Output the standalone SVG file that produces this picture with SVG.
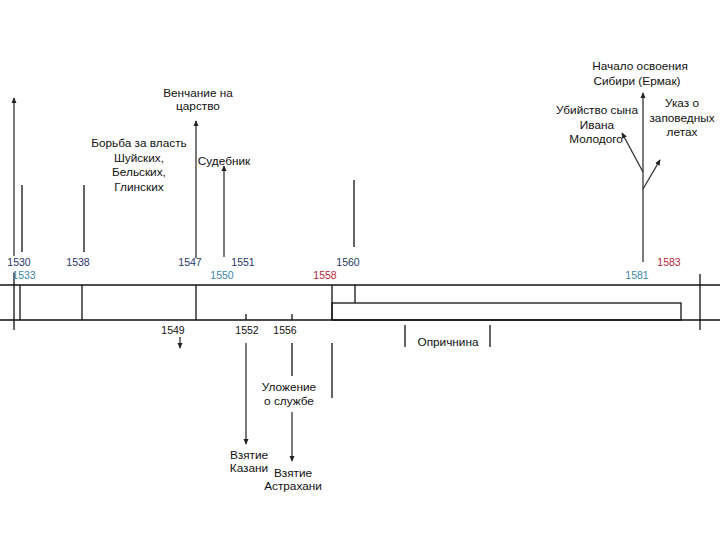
<svg xmlns="http://www.w3.org/2000/svg" width="720" height="540" viewBox="0 0 720 540">
<style>
text{font-family:"Liberation Sans",Arial,sans-serif;font-size:11.8px;fill:#111;text-anchor:middle}
.n{fill:#1f3864;font-size:10.5px}
.b{fill:#3a87a8;font-size:10.5px}
.r{fill:#b0283a;font-size:10.5px}
.k{font-size:10.5px}
.ln{stroke:#111;stroke-width:1.3;fill:none}
.ar{stroke:#333;stroke-width:1.3;fill:none;marker-end:url(#ah)}
</style>
<defs>
<marker id="ah" viewBox="0 0 8 8" refX="7" refY="4" markerWidth="6" markerHeight="6" markerUnits="userSpaceOnUse" orient="auto">
<path d="M0,0.5 L8,4 L0,7.5 Z" fill="#222"/>
</marker>
</defs>
<g id="band">
<line class="ln" x1="0" y1="285" x2="720" y2="285"/>
<line class="ln" x1="0" y1="320" x2="720" y2="320"/>
<line class="ln" x1="14" y1="273" x2="14" y2="330"/>
<line class="ln" x1="20" y1="285" x2="20" y2="320"/>
<line class="ln" x1="82" y1="285" x2="82" y2="320"/>
<line class="ln" x1="196" y1="285" x2="196" y2="320"/>
<line class="ln" x1="332" y1="285" x2="332" y2="320"/>
<line class="ln" x1="355" y1="285" x2="355" y2="303"/>
<rect class="ln" x="332" y="303" width="349" height="17"/>
<line class="ln" x1="700" y1="274" x2="700" y2="330"/>
<line class="ln" x1="246" y1="314" x2="246" y2="320"/>
<line class="ln" x1="292" y1="314" x2="292" y2="320"/>
</g>
<g id="years">
<text class="n" x="19" y="266">1530</text>
<text class="n" x="78" y="266">1538</text>
<text class="n" x="190" y="266">1547</text>
<text class="n" x="243" y="266">1551</text>
<text class="n" x="348" y="266">1560</text>
<text class="r" x="669" y="266">1583</text>
<text class="b" x="24" y="279">1533</text>
<text class="b" x="222" y="279">1550</text>
<text class="r" x="325" y="279">1558</text>
<text class="b" x="637" y="279">1581</text>
<text class="k" x="173" y="334">1549</text>
<text class="k" x="247" y="334">1552</text>
<text class="k" x="285" y="334">1556</text>
</g>
<g id="connectors">
<line class="ar" x1="14" y1="256" x2="14" y2="98"/>
<line class="ln" x1="22" y1="185" x2="22" y2="252"/>
<line class="ln" x1="84" y1="185" x2="84" y2="252"/>
<line class="ar" x1="196" y1="258" x2="196" y2="121"/>
<line class="ar" x1="224" y1="257" x2="224" y2="166"/>
<line class="ln" x1="354" y1="180" x2="354" y2="247"/>
<line class="ar" x1="643" y1="262" x2="643" y2="93"/>
<line class="ar" x1="643" y1="172" x2="622" y2="133"/>
<line class="ar" x1="643" y1="189" x2="660" y2="160"/>
<line class="ar" x1="180" y1="337" x2="180" y2="348"/>
<line class="ar" x1="246" y1="343" x2="246" y2="444"/>
<line class="ln" x1="292" y1="343" x2="292" y2="376"/>
<line class="ar" x1="292" y1="412" x2="292" y2="461"/>
<line class="ln" x1="332" y1="343" x2="332" y2="398"/>
<line class="ln" x1="405" y1="325" x2="405" y2="347"/>
<line class="ln" x1="490" y1="325" x2="490" y2="347"/>
</g>
<g id="labels">
<text x="640" y="70">Начало освоения</text>
<text x="637" y="85">Сибири (Ермак)</text>
<text x="597" y="114">Убийство сына</text>
<text x="597" y="129">Ивана</text>
<text x="596" y="143">Молодого</text>
<text x="682" y="107">Указ о</text>
<text x="682" y="122">заповедных</text>
<text x="682" y="136">летах</text>
<text x="198" y="97">Венчание на</text>
<text x="198" y="110">царство</text>
<text x="139" y="147">Борьба за власть</text>
<text x="139" y="162">Шуйских,</text>
<text x="139" y="176">Бельских,</text>
<text x="139" y="191">Глинских</text>
<text x="224" y="165">Судебник</text>
<text x="289" y="391">Уложение</text>
<text x="289" y="405">о службе</text>
<text x="249" y="459">Взятие</text>
<text x="249" y="472">Казани</text>
<text x="293" y="477">Взятие</text>
<text x="293" y="490">Астрахани</text>
<text x="448" y="346">Опричнина</text>
</g>
</svg>
